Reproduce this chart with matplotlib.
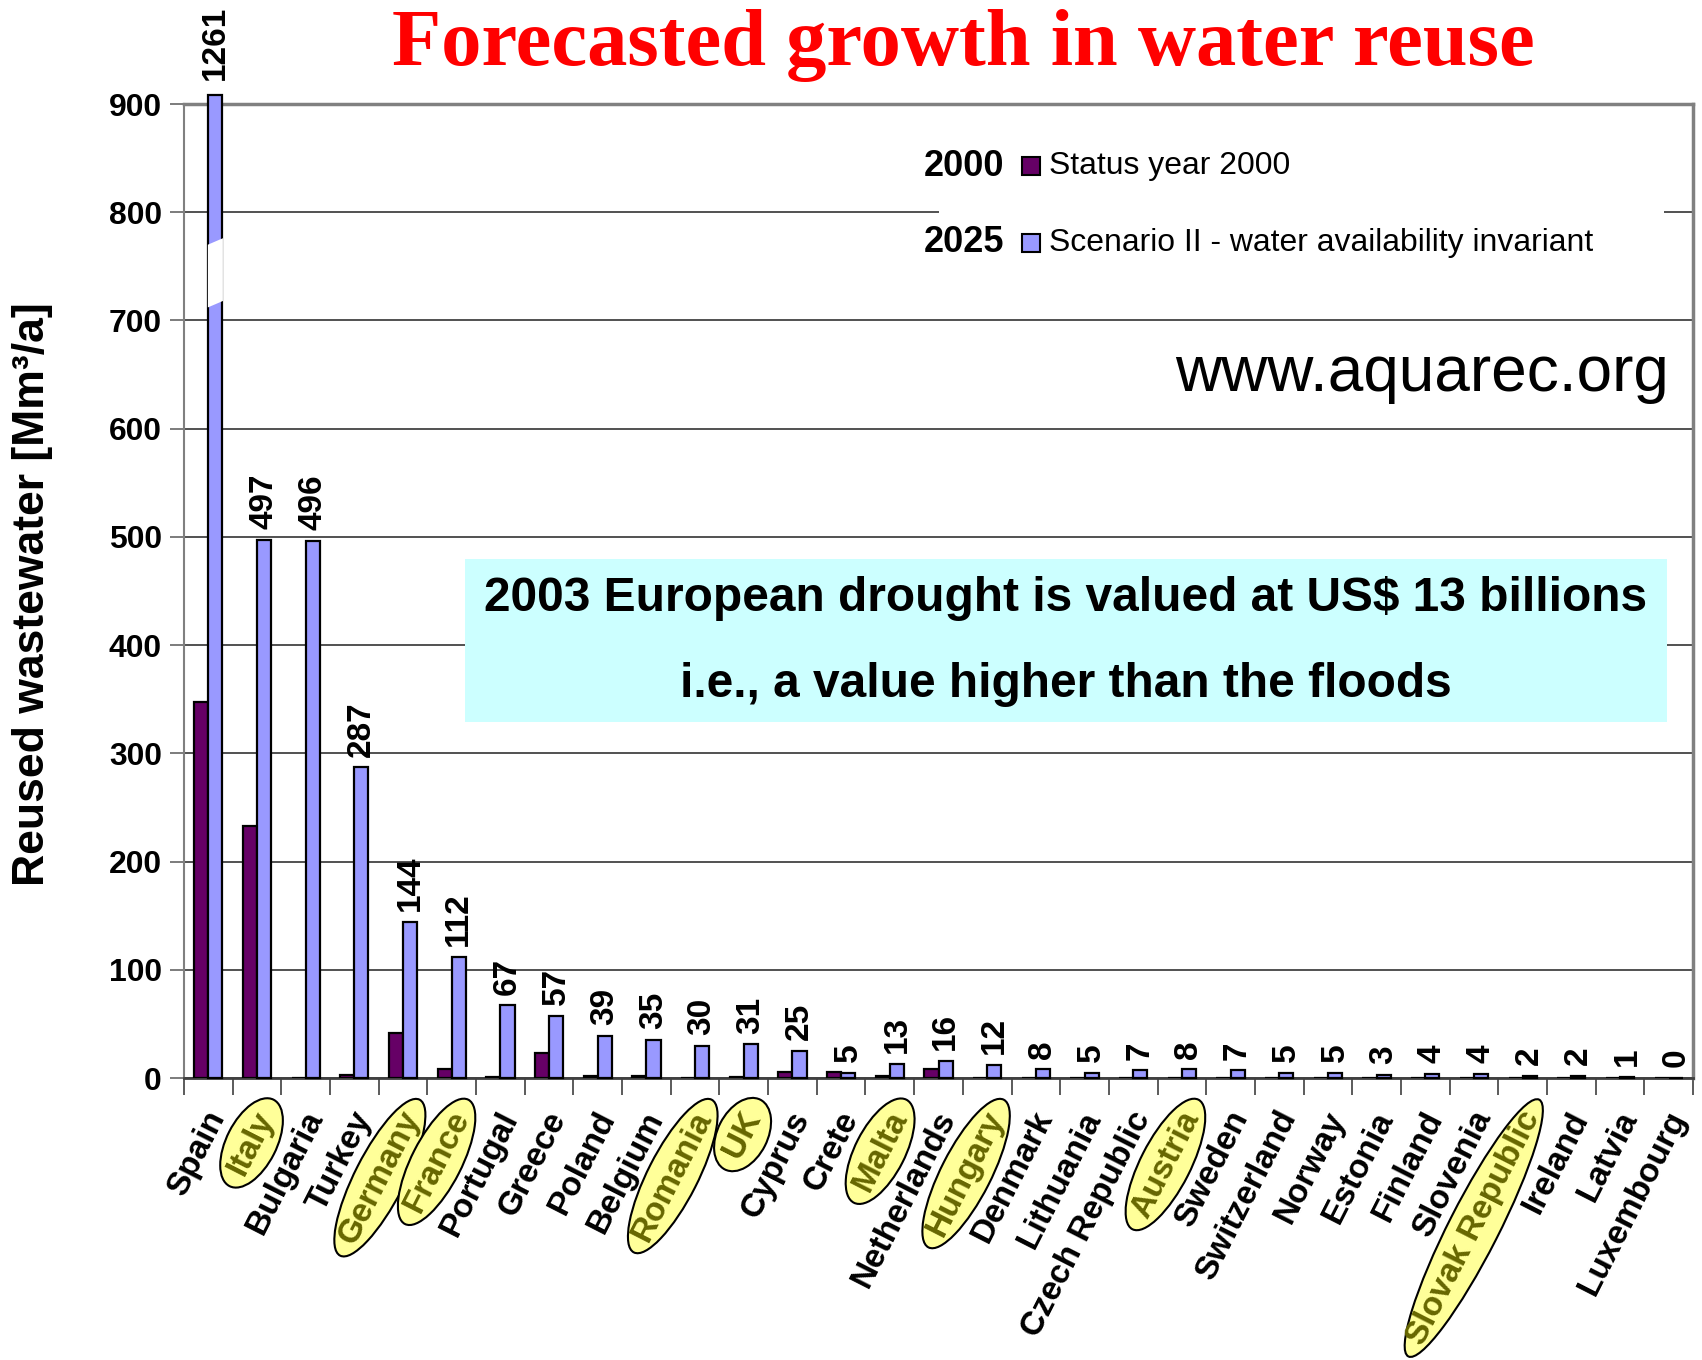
import numpy as np
import matplotlib
matplotlib.use('Agg')
import matplotlib.pyplot as plt
from matplotlib import font_manager
from matplotlib.patches import Rectangle, Ellipse, Polygon
import matplotlib.transforms as mtransforms

countries = ['Spain', 'Italy', 'Bulgaria', 'Turkey', 'Germany', 'France', 'Portugal',
             'Greece', 'Poland', 'Belgium', 'Romania', 'UK', 'Cyprus', 'Crete', 'Malta',
             'Netherlands', 'Hungary', 'Denmark', 'Lithuania', 'Czech Republic', 'Austria',
             'Sweden', 'Switzerland', 'Norway', 'Estonia', 'Finland', 'Slovenia',
             'Slovak Republic', 'Ireland', 'Latvia', 'Luxembourg']
y2000 = [347, 233, 0, 3, 42, 8, 1, 23, 2, 2, 0, 1, 6, 6, 2, 8, 0, 0, 0, 0, 0,
         0, 0, 0, 0, 0, 0, 0, 0, 0, 0]
y2025 = [1261, 497, 496, 287, 144, 112, 67, 57, 39, 35, 30, 31, 25, 5, 13, 16, 12,
         8, 5, 7, 8, 7, 5, 5, 3, 4, 4, 2, 2, 1, 0]
highlighted = ['Italy', 'Germany', 'France', 'Romania', 'UK', 'Malta', 'Hungary',
               'Austria', 'Slovak Republic']
yticks = [0, 100, 200, 300, 400, 500, 600, 700, 800, 900]

names = {f.name for f in font_manager.fontManager.ttflist}
NARROW = 'Liberation Sans Narrow' if 'Liberation Sans Narrow' in names else 'Liberation Sans'
nscale = 1.0 if NARROW == 'Liberation Sans Narrow' else 0.85
SANS = 'Liberation Sans'

W, H = 1702, 1360
fig = plt.figure(figsize=(W / 100, H / 100), dpi=100)


def fx(px):
    return px / W


def fy(py):
    return 1 - py / H


ax = fig.add_axes([fx(184), fy(1078), fx(1693) - fx(184), fy(104) - fy(1078)])

x = np.arange(len(countries))
bw = 0.29
top = 900
shown = np.minimum(y2025, top + 8)
ax.bar(x - bw / 2, y2000, bw, color='#660066', edgecolor='black', lw=1.6, zorder=3)
ax.bar(x + bw / 2, shown, bw, color='#9999ff', edgecolor='black', lw=1.6, zorder=3,
       clip_on=False)

# break mark on bars taller than the axis
for i, v in enumerate(y2025):
    if v > top:
        xl, xr = i - 0.01, i + bw + 0.01
        ax.add_patch(Polygon([(xl, 712), (xr, 718), (xr, 776), (xl, 770)],
                             closed=True, fc='white', ec='none', zorder=4))

# value labels above the 2025 bars
for i, v in enumerate(y2025):
    ypos = top + 22 if v > top else v + 10
    ax.text(i + bw / 2, ypos, str(v), rotation=90, ha='center', va='bottom',
            fontsize=24, fontweight='bold', family=SANS, clip_on=False, zorder=5)

ax.set_xlim(-0.5, len(countries) - 0.5)
ax.set_ylim(0, top)
ax.set_yticks(yticks)
ax.set_yticklabels([str(t) for t in yticks], fontsize=27 * nscale, fontweight='bold',
                   family=NARROW)
ax.yaxis.grid(True, color='#333333', lw=1.2)
ax.set_axisbelow(True)
ax.tick_params(axis='y', length=10, width=1.2, color='#666666', pad=6)
ax.set_xticks([])
ax.set_xticks(np.arange(-0.5, len(countries), 1), minor=True)
ax.tick_params(axis='x', which='minor', length=12, width=1.2, color='#404040')

for s in ['top', 'right']:
    ax.spines[s].set_color('#808080')
    ax.spines[s].set_linewidth(2.5)
ax.spines['left'].set_color('#808080')
ax.spines['left'].set_linewidth(1.5)
ax.spines['bottom'].set_color('#404040')
ax.spines['bottom'].set_linewidth(2.0)

# country labels
labels = []
for i, c in enumerate(countries):
    col = '#666600' if c in highlighted else 'black'
    t = ax.text(i + 0.2, -0.036, c, transform=ax.get_xaxis_transform(), rotation=63,
                ha='right', va='center', rotation_mode='anchor', fontsize=24,
                fontweight='bold', family=SANS, color=col)
    labels.append(t)

# white area behind legend, cyan note box
ax.add_patch(Rectangle((0.5003, 0.817), 0.4805, 0.161, transform=ax.transAxes,
                       fc='white', ec='none', zorder=2))
ax.add_patch(Rectangle((0.186, 0.3655), 0.797, 0.1675, transform=ax.transAxes,
                       fc='#ccffff', ec='none', zorder=2))
ax.text(0.5845, 0.4928, '2003 European drought is valued at US$ 13 billions',
        transform=ax.transAxes, ha='center', va='center', fontsize=34.5,
        fontweight='bold', family=SANS, zorder=3)
ax.text(0.5845, 0.4035, 'i.e., a value higher than the floods',
        transform=ax.transAxes, ha='center', va='center', fontsize=34.5,
        fontweight='bold', family=SANS, zorder=3)

# legend
leg = [('2000', 'Status year 2000', '#660066', 166),
       ('2025', 'Scenario II - water availability invariant', '#9999ff', 243)]
for yr, txt, col, py in leg:
    fig.text(fx(1004), fy(py), yr, ha='right', va='center', fontsize=26,
             fontweight='bold', family=SANS)
    fig.add_artist(Rectangle((fx(1022), fy(py + 9)), 18 / W, 18 / H,
                             transform=fig.transFigure, fc=col, ec='black', lw=1.5))
    fig.text(fx(1049), fy(py), txt, ha='left', va='center', fontsize=27 * nscale,
             family=NARROW)

fig.text(fx(1669), fy(374), 'www.aquarec.org', ha='right', va='center',
         fontsize=46, family=SANS)
fig.text(fx(963), fy(46), 'Forecasted growth in water reuse', ha='center',
         va='center', fontsize=58, fontweight='bold', family='Liberation Serif',
         color='#ff0000')
fig.text(fx(33), fy(594), 'Reused wastewater [Mm\u00b3/a]', rotation=90, ha='center',
         va='center', fontsize=32, fontweight='bold', family=SANS)

# yellow ellipses around highlighted countries
fig.canvas.draw()
renderer = fig.canvas.get_renderer()
for t in labels:
    if t.get_text() not in highlighted:
        continue
    bb = t.get_window_extent(renderer)
    cx, cy = (bb.x0 + bb.x1) / 2, (bb.y0 + bb.y1) / 2
    t.set_rotation(0)
    bb0 = t.get_window_extent(renderer)
    t.set_rotation(63)
    e = Ellipse((cx, cy), bb0.width + 30, 50, angle=63, fc='#ffff99', ec='black',
                lw=1.5, transform=mtransforms.IdentityTransform(), zorder=-1)
    fig.add_artist(e)

fig.savefig('out.png', dpi=100)
